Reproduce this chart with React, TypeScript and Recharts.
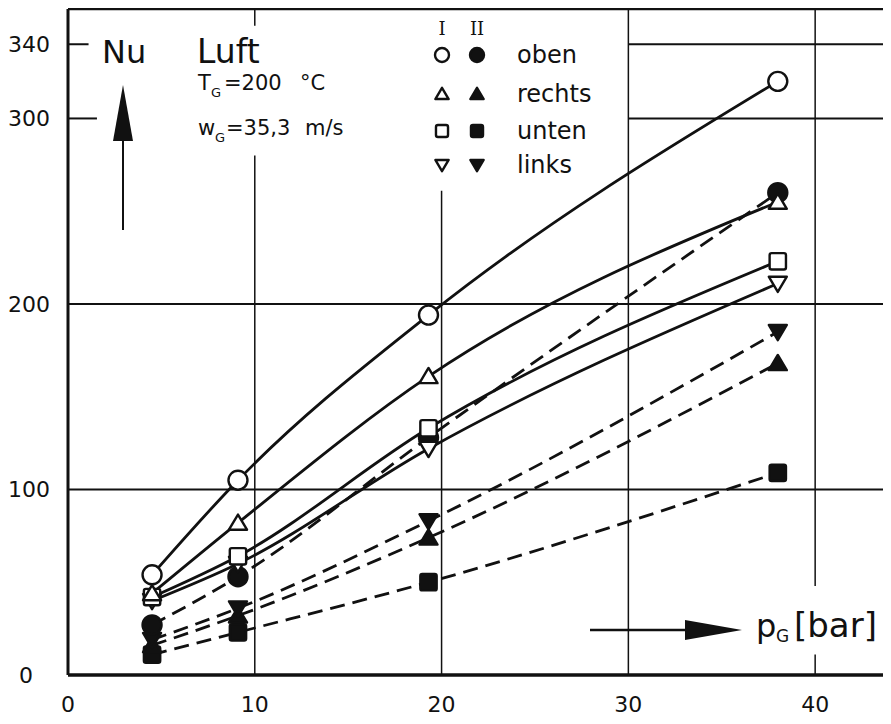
import React from 'react';
import { ComposedChart, Line, XAxis, YAxis, ReferenceLine, Customized } from 'recharts';

// pressure p_G in bar
const pressure = [4.5, 9.1, 19.3, 38];

// Nu, series I (open markers, solid lines)
const obenI = [54, 105, 194, 320];
const rechtsI = [44, 82, 161, 255];
const untenI = [42, 64, 133, 223];
const linksI = [40, 60, 122, 211];

// Nu, series II (filled markers, dashed lines)
const obenII = [27, 53, 128, 260];
const rechtsII = [16, 32, 74, 168];
const untenII = [11, 23, 50, 109];
const linksII = [19, 36, 83, 185];

const xTicks = [0, 10, 20, 30, 40];
const yTicks = [0, 100, 200, 300, 340];
const X_MAX = 43.9;
const Y_MAX = 359;

const rows = pressure.map((p, i) => ({
  p,
  obenI: obenI[i],
  rechtsI: rechtsI[i],
  untenI: untenI[i],
  linksI: linksI[i],
  obenII: obenII[i],
  rechtsII: rechtsII[i],
  untenII: untenII[i],
  linksII: linksII[i],
}));

type Shape = 'circle' | 'up' | 'square' | 'down';

const FONT = '"DejaVu Sans", sans-serif';
const INK = '#111';

function Marker({ cx, cy, shape, filled, s }: { cx: number; cy: number; shape: Shape; filled: boolean; s: number }) {
  const fill = filled ? INK : '#fff';
  const sw = 2.4;
  if (shape === 'circle') return <circle cx={cx} cy={cy} r={s / 2} fill={fill} stroke={INK} strokeWidth={sw} />;
  if (shape === 'square') {
    const h = s * 0.86;
    return <rect x={cx - h / 2} y={cy - h / 2} width={h} height={h} rx={2} fill={fill} stroke={INK} strokeWidth={sw} />;
  }
  const w = s * 0.95;
  const hh = s * 0.8;
  const pts =
    shape === 'up'
      ? `${cx},${cy - hh * 0.55} ${cx - w / 2},${cy + hh * 0.45} ${cx + w / 2},${cy + hh * 0.45}`
      : `${cx},${cy + hh * 0.55} ${cx - w / 2},${cy - hh * 0.45} ${cx + w / 2},${cy - hh * 0.45}`;
  return <polygon points={pts} fill={fill} stroke={INK} strokeWidth={sw} strokeLinejoin="round" />;
}

const dotFor = (shape: Shape, filled: boolean) => (props: any) => {
  const { cx, cy, index } = props;
  return <Marker key={`${shape}-${filled}-${index}`} cx={cx} cy={cy} shape={shape} filled={filled} s={19} />;
};

const series: { key: string; shape: Shape; filled: boolean }[] = [
  { key: 'untenII', shape: 'square', filled: true },
  { key: 'rechtsII', shape: 'up', filled: true },
  { key: 'linksII', shape: 'down', filled: true },
  { key: 'obenII', shape: 'circle', filled: true },
  { key: 'linksI', shape: 'down', filled: false },
  { key: 'untenI', shape: 'square', filled: false },
  { key: 'rechtsI', shape: 'up', filled: false },
  { key: 'obenI', shape: 'circle', filled: false },
];

const legendRows: { label: string; shape: Shape; y: number }[] = [
  { label: 'oben', shape: 'circle', y: 47 },
  { label: 'rechts', shape: 'up', y: 86 },
  { label: 'unten', shape: 'square', y: 123 },
  { label: 'links', shape: 'down', y: 157 },
];

const YTick = ({ x, y, payload }: any) => (
  <text x={payload.value === 0 ? x - 17 : x} y={y} dy="0.36em" textAnchor="end" fontFamily={FONT} fontSize={22} fill={INK}>
    {payload.value}
  </text>
);

function Annotations() {
  return (
    <g fontFamily={FONT} fill={INK}>
      {/* Nu with upward arrow */}
      <text x={94} y={55} fontSize={32}>Nu</text>
      <line x1={115} y1={222} x2={115} y2={120} stroke={INK} strokeWidth={2} />
      <polygon points="115,77 105,133 125,133" fill={INK} />

      <text x={189} y={55} fontSize={33}>Luft</text>
      <text x={190} y={82} fontSize={21}>T</text>
      <text x={203} y={89} fontSize={13}>G</text>
      <text x={216} y={82} fontSize={21}>=200</text>
      <text x={292} y={82} fontSize={21}>°C</text>
      <text x={190} y={127} fontSize={21}>w</text>
      <text x={207} y={134} fontSize={13}>G</text>
      <text x={218} y={127} fontSize={21}>=35,3</text>
      <text x={297} y={127} fontSize={21}>m/s</text>

      {/* legend: I open, II filled */}
      <text x={434} y={27} fontSize={18} textAnchor="middle" fontFamily='"DejaVu Serif", serif'>I</text>
      <text x={469} y={27} fontSize={18} textAnchor="middle" fontFamily='"DejaVu Serif", serif'>II</text>
      {legendRows.map((r) => (
        <g key={r.label}>
          <Marker cx={434} cy={r.y} shape={r.shape} filled={false} s={14} />
          <Marker cx={469} cy={r.y} shape={r.shape} filled={true} s={14} />
          <text x={509} y={r.y + 8} fontSize={24}>{r.label}</text>
        </g>
      ))}

      {/* p_G axis arrow */}
      <line x1={582} y1={622} x2={690} y2={622} stroke={INK} strokeWidth={2.5} />
      <polygon points="734,622 677,612 677,632" fill={INK} />
      <text x={748} y={629} fontSize={32}>p</text>
      <text x={768} y={634} fontSize={17}>G</text>
      <text x={786} y={629} fontSize={34}>[bar]</text>
    </g>
  );
}

export default function App() {
  return (
    <div style={{ width: 881, height: 708, background: '#fff' }}>
      <ComposedChart width={881} height={708} data={rows} margin={{ top: 1, right: 1, bottom: 0, left: 0 }}>
        <XAxis
          type="number"
          dataKey="p"
          domain={[0, X_MAX]}
          ticks={xTicks}
          allowDataOverflow
          axisLine={false}
          tickLine={false}
          tickSize={0}
          tickMargin={21}
          height={41}
          tick={{ fontFamily: FONT, fontSize: 22, fill: INK }}
        />
        <YAxis
          type="number"
          domain={[0, Y_MAX]}
          ticks={yTicks}
          allowDataOverflow
          axisLine={false}
          tickLine={false}
          tickSize={0}
          tickMargin={18}
          width={60}
          tick={<YTick />}
        />

        {/* grid, interrupted where lettering sits */}
        <ReferenceLine segment={[{ x: 10, y: 0 }, { x: 10, y: 280 }]} stroke={INK} strokeWidth={1.5} />
        <ReferenceLine segment={[{ x: 10, y: 350 }, { x: 10, y: Y_MAX }]} stroke={INK} strokeWidth={1.5} />
        <ReferenceLine segment={[{ x: 20, y: 0 }, { x: 20, y: 261 }]} stroke={INK} strokeWidth={1.5} />
        <ReferenceLine x={30} stroke={INK} strokeWidth={1.5} />
        <ReferenceLine segment={[{ x: 40, y: 0 }, { x: 40, y: 11 }]} stroke={INK} strokeWidth={1.5} />
        <ReferenceLine segment={[{ x: 40, y: 48 }, { x: 40, y: Y_MAX }]} stroke={INK} strokeWidth={1.5} />
        <ReferenceLine y={100} stroke={INK} strokeWidth={2} />
        <ReferenceLine y={200} stroke={INK} strokeWidth={2} />
        <ReferenceLine segment={[{ x: 30, y: 300 }, { x: X_MAX, y: 300 }]} stroke={INK} strokeWidth={2} />
        <ReferenceLine segment={[{ x: 30, y: 340 }, { x: X_MAX, y: 340 }]} stroke={INK} strokeWidth={2} />
        <ReferenceLine segment={[{ x: 0, y: 300 }, { x: 1.55, y: 300 }]} stroke={INK} strokeWidth={2} />
        <ReferenceLine segment={[{ x: 0, y: 340 }, { x: 1.1, y: 340 }]} stroke={INK} strokeWidth={2} />

        {/* frame */}
        <ReferenceLine x={0} stroke={INK} strokeWidth={3} />
        <ReferenceLine x={X_MAX} stroke={INK} strokeWidth={2} />
        <ReferenceLine y={0} stroke={INK} strokeWidth={3.5} />
        <ReferenceLine y={Y_MAX} stroke={INK} strokeWidth={2.5} />

        {series.map((s) => (
          <Line
            key={s.key}
            dataKey={s.key}
            type="monotone"
            stroke={INK}
            strokeWidth={2.8}
            strokeDasharray={s.filled ? '15 8' : undefined}
            dot={dotFor(s.shape, s.filled)}
            activeDot={false}
            isAnimationActive={false}
          />
        ))}

        <Customized component={Annotations} />
      </ComposedChart>
    </div>
  );
}
